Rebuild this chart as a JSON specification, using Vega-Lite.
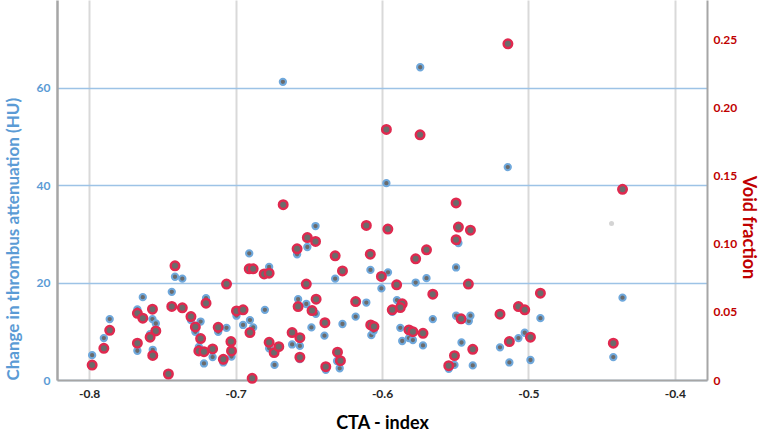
{
  "$schema": "https://vega.github.io/schema/vega-lite/v6.json",
  "width": 650,
  "height": 380,
  "autosize": {"type": "none"},
  "padding": {"left": 57, "top": 0, "right": 55, "bottom": 51},
  "background": "white",
  "config": {"view": {"stroke": null}, "font": "Lato"},
  "datasets": {
    "hu": [
      {"cta": -0.798, "hu": 5.1}, {"cta": -0.790, "hu": 8.6}, {"cta": -0.786, "hu": 12.5},
      {"cta": -0.7671, "hu": 14.5}, {"cta": -0.7671, "hu": 6.0}, {"cta": -0.7634, "hu": 17.0},
      {"cta": -0.7568, "hu": 12.5}, {"cta": -0.7545, "hu": 11.6}, {"cta": -0.7584, "hu": 9.4},
      {"cta": -0.7566, "hu": 6.2}, {"cta": -0.7414, "hu": 21.2}, {"cta": -0.7364, "hu": 20.8},
      {"cta": -0.7436, "hu": 18.1}, {"cta": -0.7305, "hu": 12.3}, {"cta": -0.7275, "hu": 9.9},
      {"cta": -0.7239, "hu": 12.0}, {"cta": -0.7251, "hu": 6.8}, {"cta": -0.7216, "hu": 3.4},
      {"cta": -0.7202, "hu": 16.8}, {"cta": -0.7157, "hu": 4.7}, {"cta": -0.7119, "hu": 9.9},
      {"cta": -0.7062, "hu": 10.7}, {"cta": -0.7084, "hu": 3.6}, {"cta": -0.7028, "hu": 4.8},
      {"cta": -0.6994, "hu": 13.2}, {"cta": -0.6949, "hu": 11.3}, {"cta": -0.6902, "hu": 12.3},
      {"cta": -0.6880, "hu": 10.8}, {"cta": -0.6907, "hu": 26.0}, {"cta": -0.6771, "hu": 23.2},
      {"cta": -0.6800, "hu": 14.4}, {"cta": -0.6771, "hu": 6.5}, {"cta": -0.6734, "hu": 3.1},
      {"cta": -0.6677, "hu": 61.2}, {"cta": -0.6614, "hu": 7.3}, {"cta": -0.6561, "hu": 7.0},
      {"cta": -0.6561, "hu": 4.3}, {"cta": -0.6573, "hu": 16.6}, {"cta": -0.6580, "hu": 25.8},
      {"cta": -0.6510, "hu": 27.3}, {"cta": -0.6454, "hu": 31.6}, {"cta": -0.6517, "hu": 15.6},
      {"cta": -0.6452, "hu": 13.6}, {"cta": -0.6482, "hu": 10.8}, {"cta": -0.6393, "hu": 9.1},
      {"cta": -0.6384, "hu": 2.1}, {"cta": -0.6320, "hu": 20.8}, {"cta": -0.6270, "hu": 11.5},
      {"cta": -0.6289, "hu": 2.4}, {"cta": -0.6307, "hu": 3.9}, {"cta": -0.6180, "hu": 13.0},
      {"cta": -0.6107, "hu": 15.9}, {"cta": -0.6079, "hu": 22.6}, {"cta": -0.6073, "hu": 9.2},
      {"cta": -0.6057, "hu": 10.1}, {"cta": -0.6004, "hu": 18.8}, {"cta": -0.5959, "hu": 22.1},
      {"cta": -0.5970, "hu": 40.4}, {"cta": -0.5739, "hu": 64.2}, {"cta": -0.5141, "hu": 43.7},
      {"cta": -0.5898, "hu": 16.4}, {"cta": -0.5930, "hu": 14.0}, {"cta": -0.5770, "hu": 20.0},
      {"cta": -0.5696, "hu": 20.9}, {"cta": -0.5653, "hu": 12.5}, {"cta": -0.5875, "hu": 10.7},
      {"cta": -0.5862, "hu": 8.0}, {"cta": -0.5816, "hu": 8.6}, {"cta": -0.5789, "hu": 8.2},
      {"cta": -0.5720, "hu": 7.1}, {"cta": -0.5478, "hu": 28.1}, {"cta": -0.5494, "hu": 23.1},
      {"cta": -0.5494, "hu": 13.2}, {"cta": -0.5407, "hu": 12.1}, {"cta": -0.5396, "hu": 13.2},
      {"cta": -0.5457, "hu": 7.7}, {"cta": -0.5380, "hu": 3.0}, {"cta": -0.5505, "hu": 3.1},
      {"cta": -0.5544, "hu": 2.3}, {"cta": -0.5194, "hu": 6.7}, {"cta": -0.5130, "hu": 3.6},
      {"cta": -0.5068, "hu": 8.6}, {"cta": -0.5025, "hu": 9.7}, {"cta": -0.4986, "hu": 4.1},
      {"cta": -0.4918, "hu": 12.7}, {"cta": -0.4357, "hu": 16.9}, {"cta": -0.4420, "hu": 4.7}
    ],
    "faint": [
      {"cta": -0.4432, "hu": 32.1}
    ],
    "vf": [
      {"cta": -0.798, "vf": 0.011}, {"cta": -0.790, "vf": 0.0233}, {"cta": -0.786, "vf": 0.0365},
      {"cta": -0.7671, "vf": 0.049}, {"cta": -0.7634, "vf": 0.0454}, {"cta": -0.7671, "vf": 0.027},
      {"cta": -0.7568, "vf": 0.052}, {"cta": -0.7545, "vf": 0.036}, {"cta": -0.7584, "vf": 0.0314},
      {"cta": -0.7566, "vf": 0.018}, {"cta": -0.7459, "vf": 0.0044}, {"cta": -0.7414, "vf": 0.0838},
      {"cta": -0.7436, "vf": 0.054}, {"cta": -0.7364, "vf": 0.053}, {"cta": -0.7305, "vf": 0.0466},
      {"cta": -0.7275, "vf": 0.039}, {"cta": -0.7239, "vf": 0.0304}, {"cta": -0.7251, "vf": 0.0213},
      {"cta": -0.7216, "vf": 0.0208}, {"cta": -0.7202, "vf": 0.0564}, {"cta": -0.7157, "vf": 0.0228},
      {"cta": -0.7119, "vf": 0.0387}, {"cta": -0.7084, "vf": 0.0152}, {"cta": -0.7062, "vf": 0.0704},
      {"cta": -0.7032, "vf": 0.0282}, {"cta": -0.7028, "vf": 0.0213}, {"cta": -0.6994, "vf": 0.0507},
      {"cta": -0.6949, "vf": 0.0515}, {"cta": -0.6902, "vf": 0.0348}, {"cta": -0.6907, "vf": 0.0816},
      {"cta": -0.6880, "vf": 0.0816}, {"cta": -0.6805, "vf": 0.0779}, {"cta": -0.6771, "vf": 0.0784},
      {"cta": -0.6887, "vf": 0.0012}, {"cta": -0.6771, "vf": 0.0277}, {"cta": -0.6737, "vf": 0.0201},
      {"cta": -0.6705, "vf": 0.0245}, {"cta": -0.6675, "vf": 0.1287}, {"cta": -0.6614, "vf": 0.0348},
      {"cta": -0.6561, "vf": 0.0311}, {"cta": -0.6561, "vf": 0.0167}, {"cta": -0.6573, "vf": 0.0539},
      {"cta": -0.6580, "vf": 0.0963}, {"cta": -0.6510, "vf": 0.1046}, {"cta": -0.6454, "vf": 0.1017},
      {"cta": -0.6450, "vf": 0.0593}, {"cta": -0.6517, "vf": 0.0704}, {"cta": -0.6478, "vf": 0.051},
      {"cta": -0.6390, "vf": 0.0421}, {"cta": -0.6384, "vf": 0.0098}, {"cta": -0.6320, "vf": 0.0912},
      {"cta": -0.6270, "vf": 0.0801}, {"cta": -0.6304, "vf": 0.0204}, {"cta": -0.6284, "vf": 0.0142},
      {"cta": -0.6180, "vf": 0.0576}, {"cta": -0.6107, "vf": 0.1135}, {"cta": -0.6080, "vf": 0.0924},
      {"cta": -0.6077, "vf": 0.0404}, {"cta": -0.6055, "vf": 0.0392}, {"cta": -0.6004, "vf": 0.076},
      {"cta": -0.5960, "vf": 0.1108}, {"cta": -0.5970, "vf": 0.184}, {"cta": -0.5740, "vf": 0.180},
      {"cta": -0.5140, "vf": 0.2468}, {"cta": -0.5900, "vf": 0.0699}, {"cta": -0.5862, "vf": 0.0559},
      {"cta": -0.5875, "vf": 0.0532}, {"cta": -0.5930, "vf": 0.0515}, {"cta": -0.5770, "vf": 0.089},
      {"cta": -0.5696, "vf": 0.0956}, {"cta": -0.5653, "vf": 0.063}, {"cta": -0.5816, "vf": 0.0368},
      {"cta": -0.5789, "vf": 0.0355}, {"cta": -0.5720, "vf": 0.0343}, {"cta": -0.5494, "vf": 0.130},
      {"cta": -0.5478, "vf": 0.1123}, {"cta": -0.5494, "vf": 0.103}, {"cta": -0.5396, "vf": 0.110},
      {"cta": -0.5410, "vf": 0.0704}, {"cta": -0.5460, "vf": 0.0449}, {"cta": -0.5380, "vf": 0.0225},
      {"cta": -0.5505, "vf": 0.0179}, {"cta": -0.5544, "vf": 0.0105}, {"cta": -0.5194, "vf": 0.0483},
      {"cta": -0.5130, "vf": 0.0282}, {"cta": -0.5068, "vf": 0.0539}, {"cta": -0.5025, "vf": 0.0515},
      {"cta": -0.4986, "vf": 0.0314}, {"cta": -0.4918, "vf": 0.0637}, {"cta": -0.4357, "vf": 0.140},
      {"cta": -0.4420, "vf": 0.027}
    ]
  },
  "encoding": {
    "x": {
      "field": "cta",
      "type": "quantitative",
      "scale": {"domain": [-0.822, -0.378], "nice": false, "zero": false},
      "axis": {
        "values": [-0.8, -0.7, -0.6, -0.5, -0.4],
        "labelExpr": "replace(format(datum.value, '.1f'), '\u2212', '-')",
        "grid": true,
        "gridColor": "#d9d9d9",
        "gridWidth": 2,
        "domainColor": "#a6a6a6",
        "domainWidth": 2,
        "ticks": false,
        "labelPadding": 8,
        "labelFont": "Lato",
        "labelFontSize": 12,
        "labelFontWeight": "bold",
        "labelColor": "#262626",
        "title": "CTA - index",
        "titleFont": "Lato",
        "titleFontSize": 18,
        "titleFontWeight": "bold",
        "titleColor": "#000000",
        "titlePadding": 15
      }
    }
  },
  "layer": [
    {
      "data": {"name": "hu"},
      "mark": {"type": "circle", "size": 40, "fill": "#6b6b6b", "stroke": "#6fa8dc", "strokeWidth": 2, "opacity": 1},
      "encoding": {
        "y": {
          "field": "hu",
          "type": "quantitative",
          "scale": {"domain": [0, 78], "nice": false},
          "axis": {
            "orient": "left",
            "values": [0, 20, 40, 60],
            "grid": true,
            "gridColor": "#9dc3e6",
            "gridWidth": 1.5,
            "domainColor": "#a6a6a6",
            "domainWidth": 2.5,
            "ticks": false,
            "labelPadding": 7,
            "labelFont": "Lato",
            "labelFontSize": 12,
            "labelFontWeight": "bold",
            "labelColor": "#5b9bd5",
            "title": "Change in thrombus attenuation (HU)",
            "titleFont": "Lato",
            "titleFontSize": 17,
            "titleFontWeight": "bold",
            "titleColor": "#5b9bd5",
            "titleAnchor": "start",
            "titlePadding": 14
          }
        }
      }
    },
    {
      "data": {"name": "faint"},
      "mark": {"type": "circle", "size": 25, "fill": "#d4d4d4", "opacity": 1},
      "encoding": {
        "y": {
          "field": "hu",
          "type": "quantitative",
          "scale": {"domain": [0, 78], "nice": false},
          "axis": null
        }
      }
    },
    {
      "data": {"name": "vf"},
      "mark": {"type": "circle", "size": 72, "fill": "#6b6b6b", "stroke": "#e0294f", "strokeWidth": 2.5, "opacity": 1},
      "encoding": {
        "y": {
          "field": "vf",
          "type": "quantitative",
          "scale": {"domain": [0, 0.279], "nice": false},
          "axis": {
            "orient": "right",
            "values": [0, 0.05, 0.1, 0.15, 0.2, 0.25],
            "labelExpr": "datum.value == 0 ? '0' : format(datum.value, '.2f')",
            "grid": false,
            "domainColor": "#a6a6a6",
            "domainWidth": 2,
            "ticks": false,
            "labelPadding": 6,
            "labelFont": "Lato",
            "labelFontSize": 12,
            "labelFontWeight": "bold",
            "labelColor": "#c00000",
            "title": "Void fraction",
            "titleFont": "Lato",
            "titleFontSize": 18,
            "titleFontWeight": "bold",
            "titleColor": "#c00000",
            "titlePadding": 2,
            "titleY": 227
          }
        }
      }
    }
  ],
  "resolve": {"scale": {"y": "independent"}}
}
